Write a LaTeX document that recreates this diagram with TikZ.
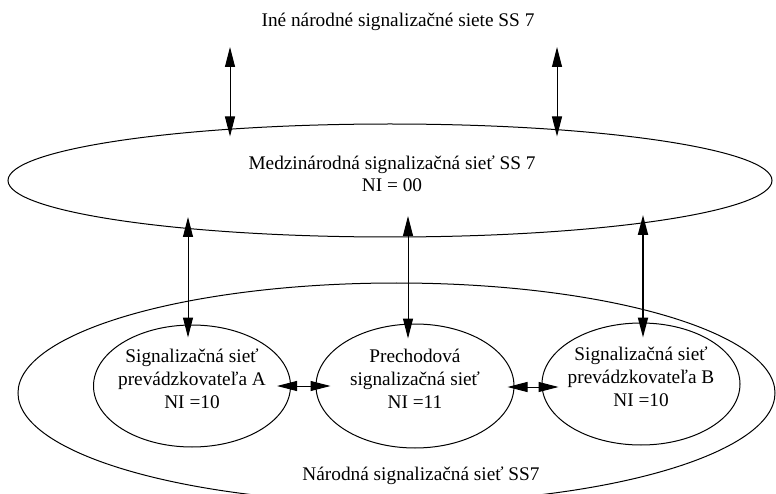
\documentclass[tikz,border=0pt]{standalone}
\usepackage{fontspec}
\setmainfont{Liberation Serif}
\usetikzlibrary{arrows.meta, shapes.geometric, positioning}
\tikzset{>={Triangle[length=20pt,width=10pt]}}

\begin{document}
\begin{tikzpicture}[x=1pt,y=-1pt,line width=1pt,
    net/.style={draw,ellipse,inner sep=-10pt,text depth=14pt,align=center,font=\fontsize{19.3}{23}\selectfont},
    lbl/.style={align=center,font=\fontsize{19.3}{22}\selectfont}]
            \useasboundingbox (0,0) rectangle (776,494);
            \node[lbl] (ine) at (398,22) {Iné národné signalizačné siete SS 7};
            \node[draw,ellipse,minimum width=764pt,minimum height=113pt] (medz) at (390,180.5) {};
            \node[lbl] (medzlbl) at (392,174) {Medzinárodná signalizačná sieť SS 7\\NI = 00};
            \node[draw,ellipse,minimum width=757pt,minimum height=220pt] (nar) at (396.5,393) {};
            \node[lbl] (narlbl) at (421,476) {Národná signalizačná sieť SS7};
            \node[net,minimum width=197pt,minimum height=122pt] (opA) at (192,386) {Signalizačná sieť\\prevádzkovateľa A\\NI =10};
            \node[net,minimum width=198pt,minimum height=124pt] (tran) at (415,386) {Prechodová\\signalizačná sieť\\NI =11};
            \node[net,minimum width=198pt,minimum height=122pt] (opB) at (641,384) {Signalizačná sieť\\prevádzkovateľa B\\NI =10};

            \coordinate (t1) at (230,47);
            \coordinate (t2) at (557,47);
            \coordinate (g1) at (188,217);
            \coordinate (g2) at (408,216);
            \coordinate (g3) at (643,215);

            \draw[<->, shorten >=-13pt](t1) -- (t1 |- medz.north);
            \draw[<->, shorten >=-13pt](t2) -- (t2 |- medz.north);
            \draw[<->, shorten >=-13pt](g1) -- (g1 |- opA.north);
            \draw[<->, shorten >=-15pt](g2) -- (g2 |- tran.north);
            \draw[<->, line width=1.8pt, shorten >=-15pt](g3) -- (g3 |- opB.north);
            \draw[<->, shorten <=-14pt, shorten >=-15pt](opA.east) -- (tran.west);
            \draw[<->, shorten <=-7pt, shorten >=-17pt]([yshift=-1pt]tran.east) -- ([yshift=-1pt]tran.east -| opB.west);
\end{tikzpicture}
\end{document}
